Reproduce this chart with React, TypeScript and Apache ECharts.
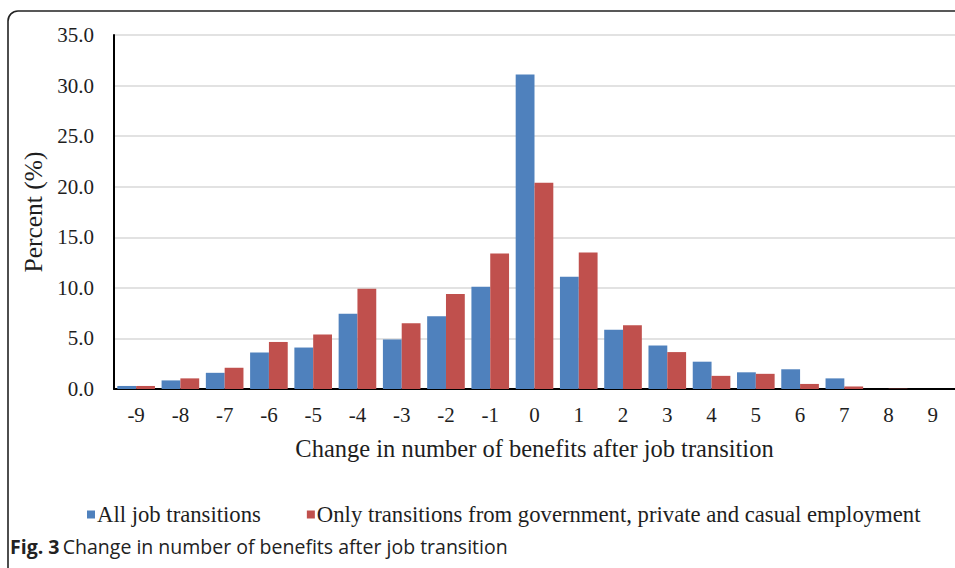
import React, { useEffect, useRef } from "react";
import * as echarts from "echarts";

const categories = ["-9", "-8", "-7", "-6", "-5", "-4", "-3", "-2", "-1", "0", "1", "2", "3", "4", "5", "6", "7", "8", "9"];
const allTransitions = [0.3, 0.85, 1.6, 3.6, 4.1, 7.45, 4.9, 7.2, 10.1, 31.1, 11.1, 5.85, 4.3, 2.7, 1.65, 1.95, 1.05, 0, 0];
const govTransitions = [0.3, 1.05, 2.1, 4.65, 5.4, 9.9, 6.5, 9.4, 13.4, 20.4, 13.5, 6.3, 3.65, 1.3, 1.5, 0.5, 0.25, 0.03, 0];
const yTicks = { min: 0, max: 35, interval: 5 };
const seriesNames = ["All job transitions", "Only transitions from government, private and casual employment"];
const xTitle = "Change in number of benefits after job transition";
const yTitle = "Percent (%)";
const captionBold = "Fig. 3";
const captionText = "Change in number of benefits after job transition";

const SERIF = "'Liberation Serif', 'Times New Roman', serif";
const SANS = "'Open Sans', 'Noto Sans', sans-serif";
const TEXT = "#1e1e1e";

export default function App() {
  const ref = useRef<HTMLDivElement>(null);
  useEffect(() => {
    document.body.style.margin = "0";
    const chart = echarts.init(ref.current!, null, { renderer: "svg" });
    chart.setOption({
      animation: false,
      backgroundColor: "#ffffff",
      textStyle: { fontFamily: SERIF, color: TEXT },
      grid: { left: 114, right: -1, top: 35, bottom: 179, containLabel: false },
      legend: {
        left: 82,
        top: 498,
        icon: "rect",
        itemWidth: 8,
        itemHeight: 8,
        itemGap: 46,
        textStyle: { fontFamily: SERIF, fontSize: 22.7, color: TEXT, padding: [0, 0, 0, -3] },
        data: seriesNames,
      },
      xAxis: {
        type: "category",
        data: categories,
        name: xTitle,
        nameLocation: "middle",
        nameGap: 47,
        nameTextStyle: { fontFamily: SERIF, fontSize: 24.5, color: TEXT },
        axisTick: { show: false },
        axisLine: { lineStyle: { color: "#000", width: 2 } },
        axisLabel: { fontFamily: SERIF, fontSize: 21, color: TEXT, margin: 15 },
      },
      yAxis: {
        type: "value",
        min: yTicks.min,
        max: yTicks.max,
        interval: yTicks.interval,
        name: yTitle,
        nameLocation: "middle",
        nameGap: 67,
        nameRotate: 90,
        nameTextStyle: { fontFamily: SERIF, fontSize: 25.5, color: TEXT },
        axisLine: { show: true, lineStyle: { color: "#000", width: 2 } },
        axisTick: { show: false },
        axisLabel: {
          fontFamily: SERIF,
          fontSize: 21,
          color: TEXT,
          margin: 20,
          formatter: (v: number) => v.toFixed(1),
        },
        splitLine: { lineStyle: { color: "#d9d9d9", width: 1.5 } },
      },
      series: [
        {
          name: seriesNames[0],
          type: "bar",
          data: allTransitions,
          itemStyle: { color: "#4f81bd" },
          barGap: "0%",
          barCategoryGap: "15%",
        },
        {
          name: seriesNames[1],
          type: "bar",
          data: govTransitions,
          itemStyle: { color: "#c0504d" },
          barGap: "0%",
          barCategoryGap: "15%",
        },
      ],
      graphic: [
        {
          type: "rect",
          shape: { x: 8, y: 11, width: 970, height: 580, r: [10, 0, 0, 0] },
          style: { fill: "none", stroke: "#222", lineWidth: 1.6 },
          silent: true,
        },
        {
          type: "text",
          left: 10,
          top: 536,
          style: {
            text: "{b|" + captionBold + "} {n|" + captionText + "}",
            rich: {
              b: { fontFamily: SANS, fontWeight: "bold", fontSize: 19.5, fill: "#222" },
              n: { fontFamily: SANS, fontSize: 19.5, fill: "#222" },
            },
          },
        },
      ],
    });
    return () => chart.dispose();
  }, []);
  return <div ref={ref} style={{ position: "fixed", left: 0, top: 0, width: 955, height: 568 }} />;
}
